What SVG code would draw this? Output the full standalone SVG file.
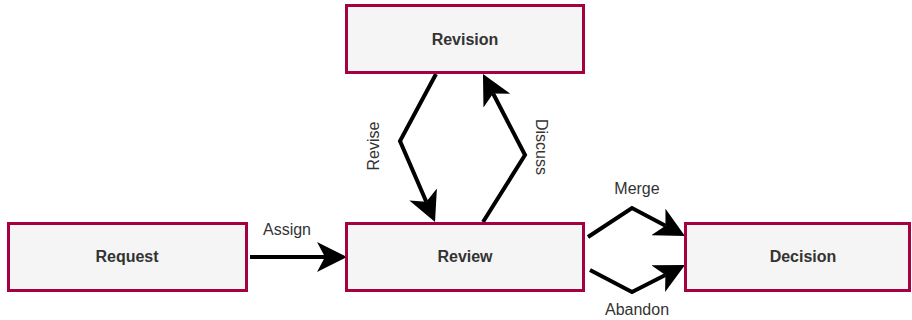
<svg xmlns="http://www.w3.org/2000/svg" width="912" height="320" viewBox="0 0 912 320">
<style>
.box{fill:#f5f5f5;stroke:#A50040;stroke-width:3}
.nt{font-family:"Liberation Sans",Arial,sans-serif;font-size:16px;font-weight:bold;fill:#333333;text-anchor:middle}
.el{font-family:"Liberation Sans",Arial,sans-serif;font-size:16px;fill:#333333;text-anchor:middle}
.edge{fill:none;stroke:#000;stroke-width:4;stroke-linejoin:miter;marker-end:url(#arr)}
</style>
<defs>
<marker id="arr" markerUnits="userSpaceOnUse" markerWidth="30" markerHeight="30" viewBox="0 0 30 30" refX="8" refY="15" orient="auto">
<path d="M0,0 L30,15 L0,30 L8,15 Z" fill="#000"/>
</marker>
</defs>
<rect width="912" height="320" fill="#ffffff"/>
<g id="edges">
<path class="edge" d="M250,257 L325,257"/>
<path class="edge" d="M436,74 L400,141 L426.3,201.8"/>
<path class="edge" d="M483,222 L525,155 L493.1,93.5"/>
<path class="edge" d="M588,237 L632,208 L665.5,225.7"/>
<path class="edge" d="M590,270 L632,292 L665.4,275"/>
<text class="el" x="287" y="235">Assign</text>
<text class="el" transform="translate(378.5,146) rotate(-90)">Revise</text>
<text class="el" transform="translate(536,147) rotate(90)">Discuss</text>
<text class="el" x="637" y="194">Merge</text>
<text class="el" x="637" y="315">Abandon</text>
</g>
<g id="revision"><rect class="box" x="346.5" y="5.5" width="237" height="67"/><text class="nt" x="465" y="45">Revision</text></g>
<g id="request"><rect class="box" x="8.5" y="223.5" width="238" height="67"/><text class="nt" x="127" y="262">Request</text></g>
<g id="review"><rect class="box" x="346.5" y="223.5" width="237" height="67"/><text class="nt" x="465" y="262">Review</text></g>
<g id="decision"><rect class="box" x="685.5" y="223.5" width="224" height="67"/><text class="nt" x="803" y="262">Decision</text></g>
</svg>
